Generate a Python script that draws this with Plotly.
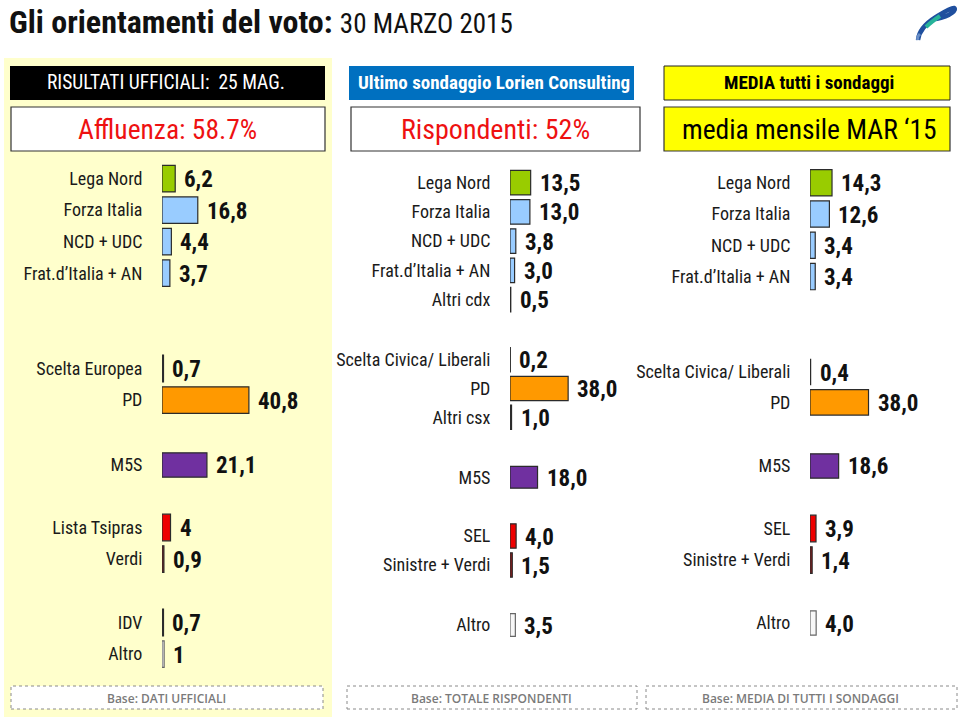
import plotly.graph_objects as go

W, H = 959, 721

# ---- data ----
# risultati ufficiali (left), ultimo sondaggio (middle), media sondaggi (right)
cdx_uff = ["Lega Nord", "Forza Italia", "NCD + UDC", "Frat.d’Italia + AN"]
cdx_uff_val = [6.2, 16.8, 4.4, 3.7]
csx_uff = ["Scelta Europea", "PD"]
csx_uff_val = [0.7, 40.8]
m5s_uff_val = [21.1]
sx_uff = ["Lista Tsipras", "Verdi"]
sx_uff_val = [4, 0.9]
alt_uff = ["IDV", "Altro"]
alt_uff_val = [0.7, 1]

cdx_son = ["Lega Nord", "Forza Italia", "NCD + UDC", "Frat.d’Italia + AN", "Altri cdx"]
cdx_son_val = [13.5, 13.0, 3.8, 3.0, 0.5]
csx_son = ["Scelta Civica/ Liberali", "PD", "Altri csx"]
csx_son_val = [0.2, 38.0, 1.0]
m5s_son_val = [18.0]
sx_son = ["SEL", "Sinistre + Verdi"]
sx_son_val = [4.0, 1.5]
alt_son = ["Altro"]
alt_son_val = [3.5]

cdx_med = ["Lega Nord", "Forza Italia", "NCD + UDC", "Frat.d’Italia + AN"]
cdx_med_val = [14.3, 12.6, 3.4, 3.4]
csx_med = ["Scelta Civica/ Liberali", "PD"]
csx_med_val = [0.4, 38.0]
m5s_med_val = [18.6]
sx_med = ["SEL", "Sinistre + Verdi"]
sx_med_val = [3.9, 1.4]
alt_med = ["Altro"]
alt_med_val = [4.0]

# party colours
colors = {
    "Lega Nord": "#99cc00", "Forza Italia": "#99ccff", "NCD + UDC": "#99ccff",
    "Frat.d’Italia + AN": "#99ccff", "Altri cdx": "#333333",
    "Scelta Europea": "#333333", "Scelta Civica/ Liberali": "#333333",
    "PD": "#ff9900", "Altri csx": "#333333", "M5S": "#7030a0",
    "Lista Tsipras": "#ee0000", "SEL": "#ee0000", "Verdi": "#7b1c1c",
    "Sinistre + Verdi": "#8c1c1c", "IDV": "#333333", "Altro": "#f7f7f7",
}

NARROW = "Liberation Sans Narrow, Arial Narrow, Roboto Condensed, Liberation Sans, sans-serif"

# column: bar start (px), px per unit, groups (names, values, first centre y, pitch)
columns = [
    (162, 2.13, [(cdx_uff, cdx_uff_val, 178, 31.7), (csx_uff, csx_uff_val, 368, 32),
                 (["M5S"], m5s_uff_val, 464, 31), (sx_uff, sx_uff_val, 527, 32),
                 (alt_uff, alt_uff_val, 622, 32)]),
    (510, 1.53, [(cdx_son, cdx_son_val, 181, 29.6), (csx_son, csx_son_val, 358, 29.5),
                 (["M5S"], m5s_son_val, 475.5, 29.5), (sx_son, sx_son_val, 534.5, 30),
                 (alt_son, alt_son_val, 623.5, 30)]),
    (810, 1.54, [(cdx_med, cdx_med_val, 182, 31.5), (csx_med, csx_med_val, 371, 31),
                 (["M5S"], m5s_med_val, 465, 31), (sx_med, sx_med_val, 528, 32),
                 (alt_med, alt_med_val, 622, 31)]),
]
XMAX = 45


def px(x):
    return x / W


def py(y):
    return 1 - y / H


fig = go.Figure()
layout = {}
annotations = []
k = 0
for x0, scale, groups in columns:
    for names, vals, c0, pitch in groups:
        k += 1
        xa = "x" if k == 1 else f"x{k}"
        ya = "y" if k == 1 else f"y{k}"
        fig.add_trace(go.Bar(
            x=vals, y=names, orientation="h", xaxis=xa, yaxis=ya, width=0.84,
            marker=dict(color=[colors[n] for n in names],
                        line=dict(color=["#666666" if n == "Altro" else "#2b2b2b" for n in names],
                                  width=1.2)),
            hoverinfo="x+y", showlegend=False,
        ))
        top = c0 - pitch / 2
        bot = c0 + (len(names) - 0.5) * pitch
        layout["xaxis" if k == 1 else f"xaxis{k}"] = dict(
            domain=[px(x0), px(x0 + XMAX * scale)], range=[0, XMAX], anchor=ya,
            visible=False, fixedrange=True)
        layout["yaxis" if k == 1 else f"yaxis{k}"] = dict(
            domain=[py(bot), py(top)], anchor=xa, type="category",
            categoryorder="array", categoryarray=names, autorange="reversed",
            showline=False, showgrid=False, zeroline=False,
            ticks="outside", ticklen=15, tickcolor="rgba(0,0,0,0)",
            tickfont=dict(family=NARROW, size=18, color="#1a1a1a"), fixedrange=True)
        for n, v in zip(names, vals):
            annotations.append(dict(
                x=v, y=n, xref=xa, yref=ya, text=str(v).replace(".", ","),
                xanchor="left", yanchor="middle", xshift=7, yshift=-1, showarrow=False,
                font=dict(family=NARROW, size=23, color="#111111", weight="bold")))

shapes = []


def box(x0, y0, x1, y1, fill, line=None, dash=None, width=1):
    shapes.append(dict(
        type="rect", xref="paper", yref="paper", x0=px(x0), x1=px(x1), y0=py(y1), y1=py(y0),
        fillcolor=fill, layer="below",
        line=dict(color=line or "rgba(0,0,0,0)", width=width if line else 0, dash=dash)))


def label(x, y, text, size, color, weight="normal", family=NARROW):
    annotations.append(dict(
        x=px(x), y=py(y), xref="paper", yref="paper", text=text, showarrow=False,
        xanchor="center", yanchor="middle",
        font=dict(family=family, size=size, color=color, weight=weight)))


# left panel background
box(4, 58, 332, 717, "#ffffcc")

# header boxes
box(10, 66, 325, 100, "#000000")
box(349, 66, 634, 100, "#0070c0")
box(664, 66, 950, 100, "#ffff00", "#222222", width=1)
label(166, 83, "RISULTATI UFFICIALI:  25 MAG.", 19.5, "#ffffff")
label(494, 83, "Ultimo sondaggio Lorien Consulting", 19, "#ffffff", "bold")
label(809, 83, "MEDIA tutti i sondaggi", 19, "#000000", "bold")

box(11, 107, 325, 151, "#ffffff", "#333333", width=1.2)
box(351, 107, 640, 151, "#ffffff", "#333333", width=1.2)
box(664, 107, 950, 151, "#ffff00", "#333333", width=1.2)
label(167, 129, "Affluenza: 58.7%", 27.5, "#ee1111")
label(495, 129, "Rispondenti: 52%", 28, "#ee1111")
label(809, 129, "media mensile MAR ‘15", 27.5, "#000000")

# footer boxes
box(11, 686, 323, 709, "#ffffff", "#8a8a8a", dash="dot")
box(347, 686, 637, 709, "#ffffff", "#8a8a8a", dash="dot")
box(646, 686, 957, 709, "#ffffff", "#8a8a8a", dash="dot")
label(166, 698, "Base: DATI UFFICIALI", 12, "#7a7a7a", 600, "Open Sans")
label(491, 698, "Base: TOTALE RISPONDENTI", 12, "#7a7a7a", 600, "Open Sans")
label(800, 698, "Base: MEDIA DI TUTTI I SONDAGGI", 12, "#7a7a7a", 600, "Open Sans")

# title
annotations.append(dict(
    x=px(7), y=py(22), xref="paper", yref="paper", xanchor="left", yanchor="middle",
    showarrow=False,
    text="<b>Gli orientamenti del voto:</b> <span style='font-size:27px'>30 MARZO 2015</span>",
    font=dict(family=NARROW, size=32, color="#111111")))


# logo
def path(points):
    s = f"M {px(points[0][0])} {py(points[0][1])}"
    for i in range(1, len(points), 3):
        a, b, c = points[i:i + 3]
        s += f" C {px(a[0])} {py(a[1])}, {px(b[0])} {py(b[1])}, {px(c[0])} {py(c[1])}"
    return s


shapes.append(dict(type="path", xref="paper", yref="paper",
                   path=path([(918, 40), (919, 30), (928, 22), (936, 17),
                              (944, 12), (950, 8), (954, 8),
                              (957, 9), (952, 16), (936, 19)]),
                   line=dict(color="#1f4f9e", width=4.5)))
shapes.append(dict(type="path", xref="paper", yref="paper",
                   path=path([(926, 27), (930, 23), (934, 20), (940, 16)]),
                   line=dict(color="#27b39a", width=4)))
shapes.append(dict(type="path", xref="paper", yref="paper",
                   path=path([(918, 40), (917, 37), (918, 36), (920, 34)]),
                   line=dict(color="#6a8fc8", width=3)))

fig.update_layout(
    width=W, height=H, margin=dict(l=0, r=0, t=0, b=0),
    paper_bgcolor="#ffffff", plot_bgcolor="rgba(0,0,0,0)",
    shapes=shapes, annotations=annotations, bargap=0.16, **layout)

fig.write_html("out.html", config={"displayModeBar": False},
               post_script="document.body.style.margin='0';")
